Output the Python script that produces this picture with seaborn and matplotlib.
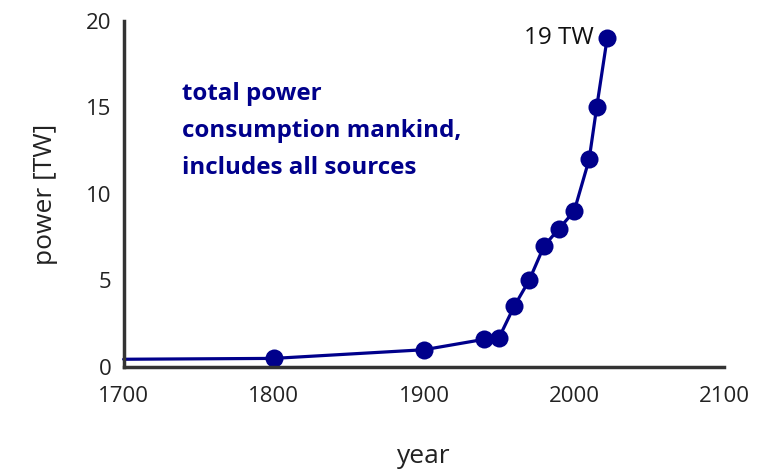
import matplotlib
matplotlib.use("Agg")
import matplotlib.pyplot as plt
import seaborn as sns
import pandas as pd

years = [1700, 1800, 1900, 1940, 1950, 1960, 1970, 1980, 1990, 2000, 2010, 2015, 2022]
power = [0.45, 0.5, 1.0, 1.6, 1.7, 3.5, 5.0, 7.0, 8.0, 9.0, 12.0, 15.0, 19.0]
x_ticks = [1700, 1800, 1900, 2000, 2100]
y_ticks = [0, 5, 10, 15, 20]
annotation = "total power\nconsumption mankind,\nincludes all sources"
peak_label = "19 TW"

sns.set_theme(style="white")
plt.rcParams['font.family'] = ['Open Sans', 'DejaVu Sans']

df = pd.DataFrame({"year": years, "power": power})
navy = "#00008B"

fig = plt.figure(figsize=(7.73, 4.73), dpi=100)
ax = fig.add_axes([0.160, 0.224, 0.777, 0.732])
sns.lineplot(data=df, x="year", y="power", ax=ax, color=navy, linewidth=2.3,
             marker="o", markersize=13, markeredgewidth=0,
             markevery=list(range(1, len(years))), clip_on=False)

ax.set_xlim(1700, 2100)
ax.set_ylim(0, 20)
ax.set_xticks(x_ticks)
ax.set_yticks(y_ticks)
ax.tick_params(axis="both", direction="in", length=9, width=2.2, color="#333333",
               labelsize=16, labelcolor="#222222")
ax.tick_params(axis="x", pad=14)
ax.tick_params(axis="y", pad=9)
for s in ["top", "right"]:
    ax.spines[s].set_visible(False)
for s in ["left", "bottom"]:
    ax.spines[s].set_linewidth(2.5)
    ax.spines[s].set_color("#333333")

ax.set_xlabel("year", fontsize=19, color="#222222", labelpad=26)
ax.set_ylabel("power [TW]", fontsize=19, color="#222222", labelpad=20)

ax.text(1739, 16.45, annotation, color=navy, fontsize=17.4, fontweight="bold",
        va="top", ha="left", linespacing=1.72)
ax.text(2013, 19.0, peak_label, color="#111111", fontsize=17.5, va="center", ha="right")

fig.savefig("out.png", dpi=100)
